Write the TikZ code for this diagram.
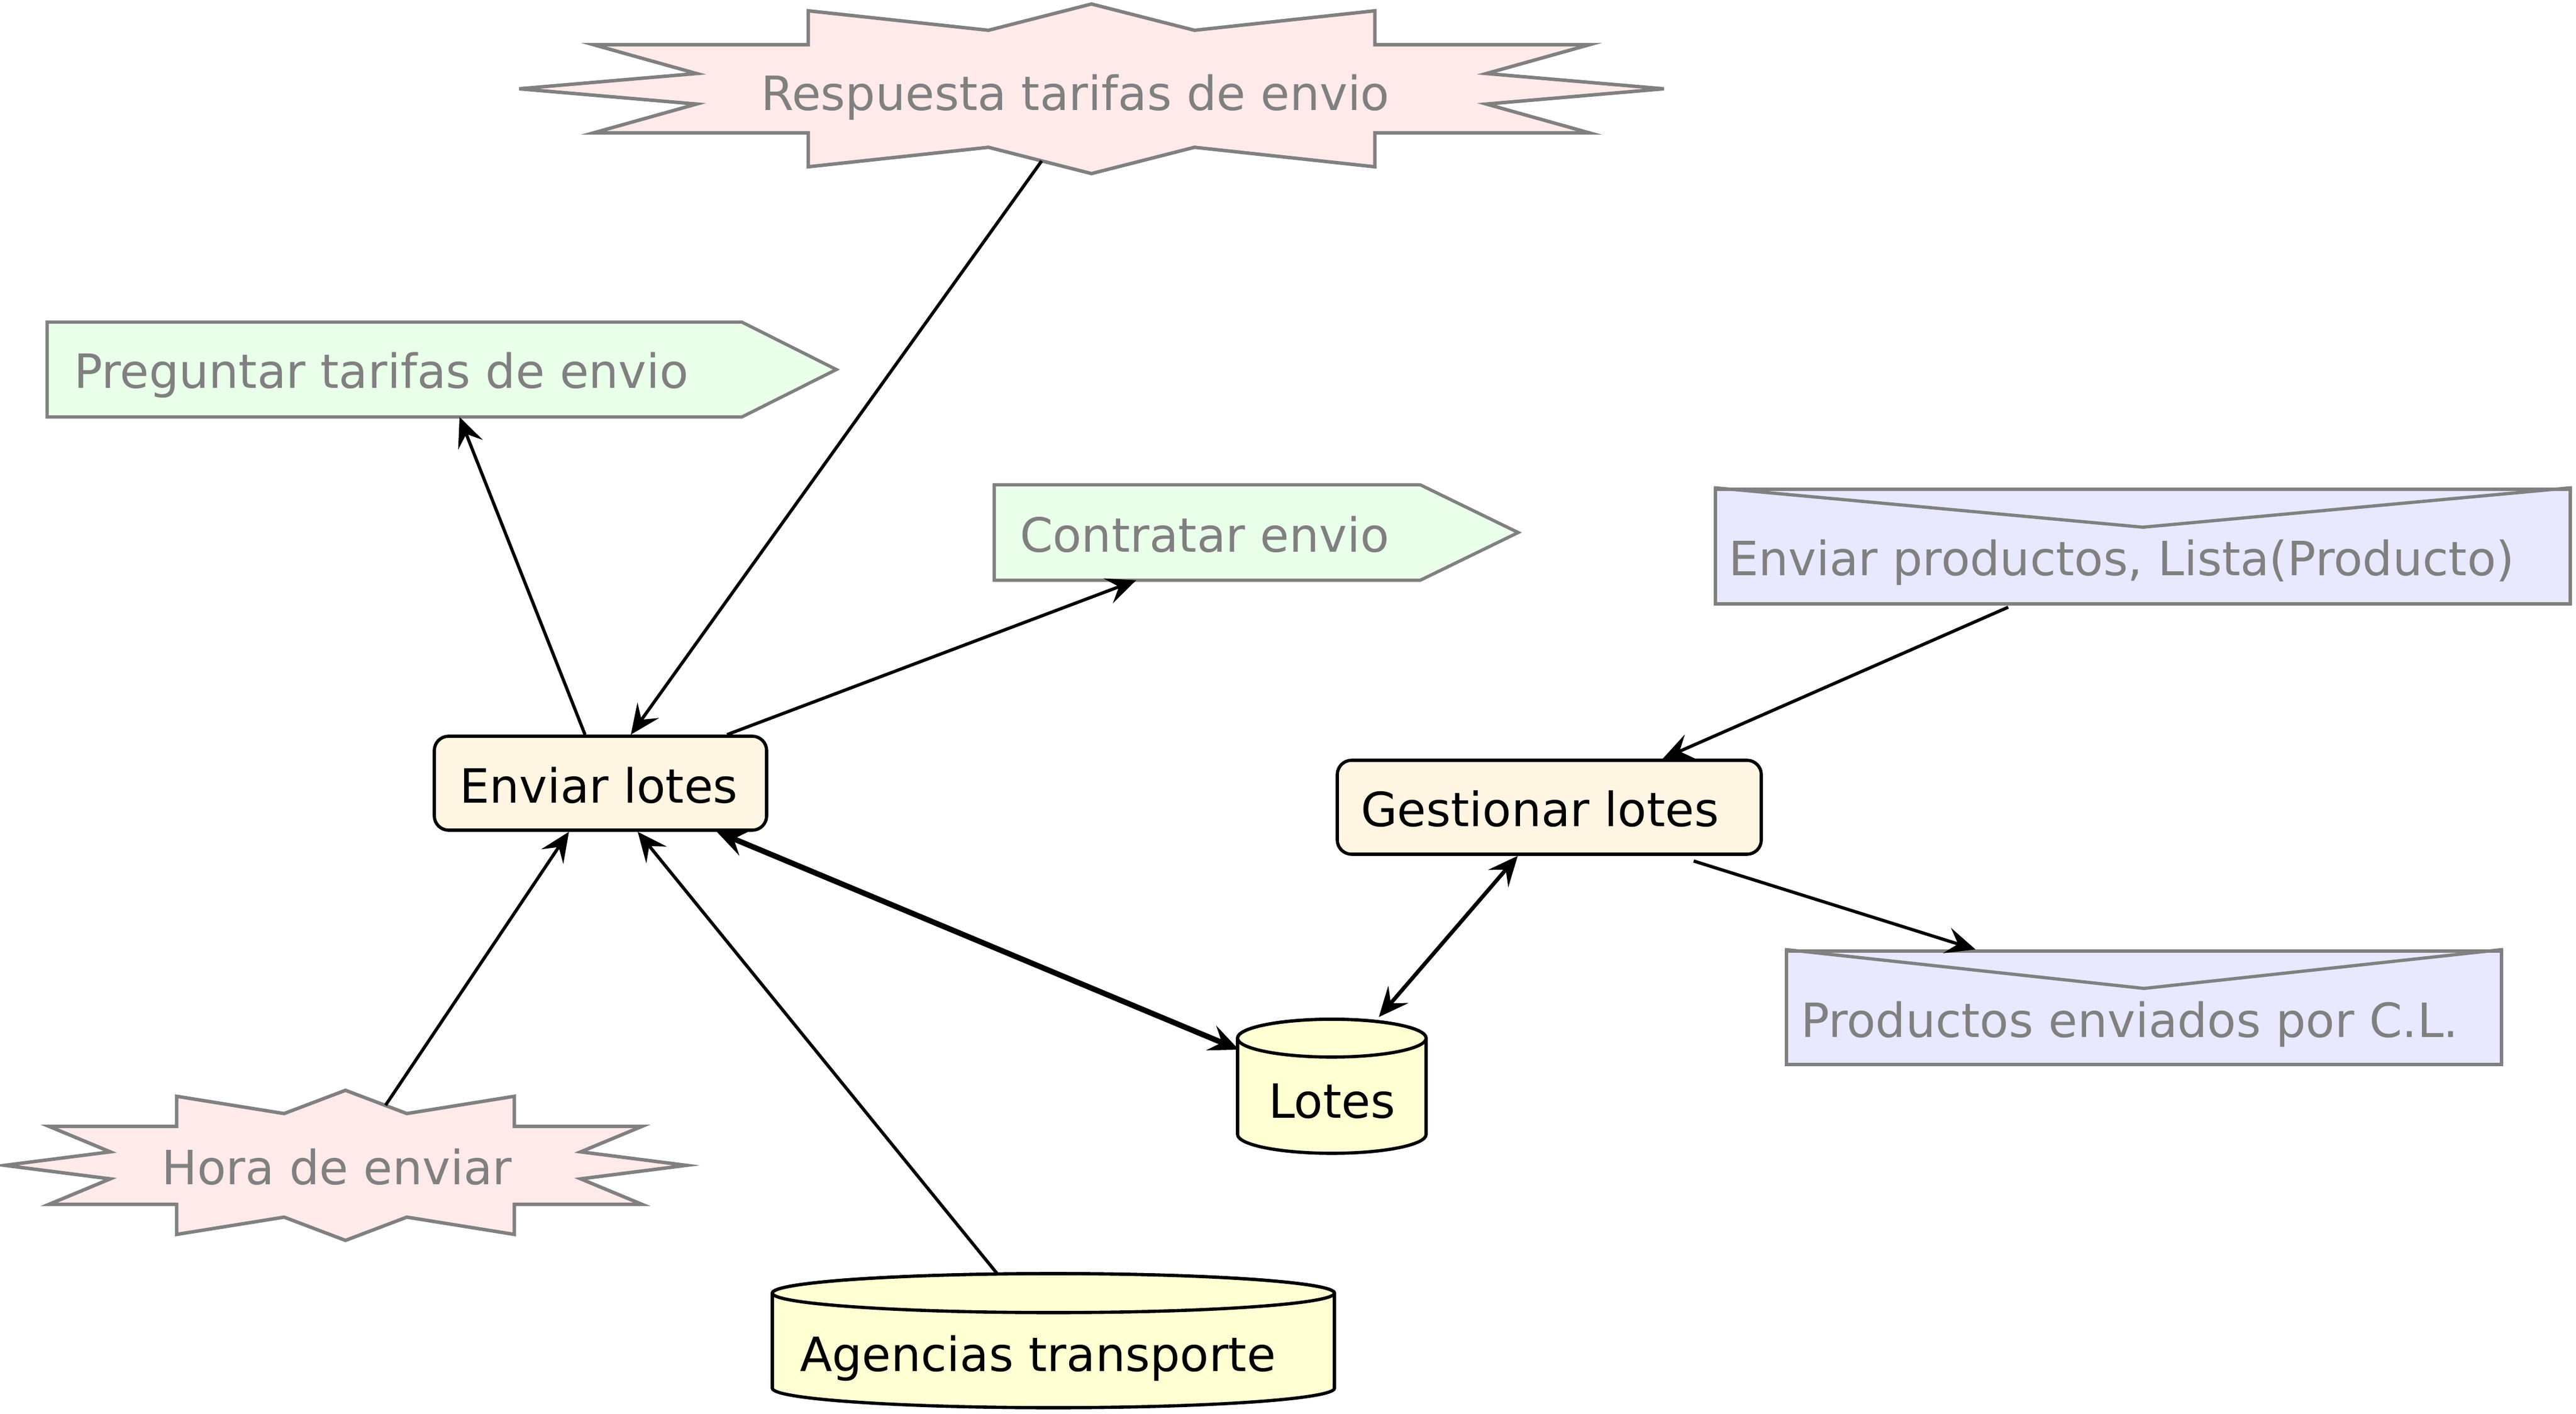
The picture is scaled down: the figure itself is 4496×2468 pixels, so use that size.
\documentclass[tikz,border=0pt]{standalone}
\usepackage{fontspec}
\setmainfont{DejaVu Sans}
\usetikzlibrary{arrows.meta,calc,backgrounds}
\definecolor{grayc}{HTML}{808080}
\definecolor{pinkf}{HTML}{FFEAEA}
\definecolor{greenf}{HTML}{EAFFEA}
\definecolor{bluef}{HTML}{E8E8FF}
\definecolor{tanf}{HTML}{FEF5E2}
\definecolor{yelf}{HTML}{FFFFD4}
\newcommand\mkburst[1]{\draw[starsty,#1] (0,-1) -- (0.18,-0.69) -- (0.495,-0.92) -- (0.495,-0.52) -- (0.87,-0.52) -- (0.69,-0.18) -- (1,0) -- (0.69,0.18) -- (0.87,0.52) -- (0.495,0.52) -- (0.495,0.92) -- (0.18,0.69) -- (0,1) -- (-0.18,0.69) -- (-0.495,0.92) -- (-0.495,0.52) -- (-0.87,0.52) -- (-0.69,0.18) -- (-1,0) -- (-0.69,-0.18) -- (-0.87,-0.52) -- (-0.495,-0.52) -- (-0.495,-0.92) -- (-0.18,-0.69) -- cycle;}
\begin{document}
\begin{tikzpicture}[x=0.25pt,y=-0.25pt,
  >={Stealth[length=13pt,width=11.5pt,inset=5pt]},
  every node/.style={font=\fontsize{20.6pt}{24pt}\selectfont, inner ysep=0pt, text depth=0pt},
  proc/.style={draw=black, line width=1.4pt, fill=tanf, rounded corners=6.25pt},
  sig/.style={text=grayc},
  envl/.style={draw=grayc, line width=1.4pt, fill=bluef, text=grayc},
  flap/.style={draw=grayc, line width=1.4pt},
  starsty/.style={draw=grayc, line width=1.5pt, fill=pinkf},
  sigsty/.style={draw=grayc, line width=1.4pt, fill=greenf},
  cylsty/.style={draw=black, line width=1.4pt, fill=yelf},
  conn/.style={line width=1.4pt, ->},
  dconn/.style={<->},
]
\useasboundingbox (0,0) rectangle (4496,2468);

% nodes
\node[proc, minimum width=145pt, minimum height=41pt, inner xsep=11pt, text height=17.5pt] (enviar) at (1048,1367) {\makebox[123pt][l]{Enviar lotes}};
\node[proc, minimum width=185pt, minimum height=41pt, inner xsep=10.25pt, text height=17pt] (gest) at (2704,1409) {\makebox[164.5pt][l]{Gestionar lotes}};
\node[sig, minimum width=302.75pt, minimum height=41pt, inner xsep=11.5pt, text height=16.5pt] (preg) at (688.5,645) {\makebox[279.75pt][l]{Preguntar tarifas de envio}};
\node[sig, minimum width=185.5pt, minimum height=41.25pt, inner xsep=11pt, text height=17.25pt] (contr) at (2107,929.5) {\makebox[163.5pt][l]{Contratar envio}};
\node[envl, minimum width=373pt, minimum height=50pt, inner xsep=5.75pt, text height=25.5pt] (envprod) at (3740,954) {\makebox[361.5pt][l]{Enviar productos, Lista(Producto)}};
\node[envl, minimum width=312pt, minimum height=49.5pt, inner xsep=6.25pt, text height=25.5pt] (prodenv) at (3742,1759) {\makebox[299.5pt][l]{Productos enviados por C.L.}};
\node[minimum width=82.25pt, minimum height=58.5pt, inner xsep=0pt, text height=27.5pt] (lotes) at (2324.5,1896) {\makebox[82.25pt][c]{Lotes}};
\node[minimum width=245.25pt, minimum height=58.5pt, inner xsep=12pt, text height=26.5pt] (agen) at (1838.5,2340) {\makebox[221.25pt][l]{Agencias transporte}};
\node[anchor=base, text=grayc] (resp) at (1877,193) {Respuesta tarifas de envio};
\node[anchor=base, text=grayc] (hora) at (588,2067) {Hora de enviar};

% shapes behind
\begin{pgfonlayer}{background}
\mkburst{shift={(1905,155)}, xscale=999, yscale=148}
\mkburst{shift={(603,2034)}, xscale=595, yscale=131}
\draw[sigsty] (preg.north west) -- (preg.north east) -- ($(preg.east)+(165,0)$) -- (preg.south east) -- (preg.south west) -- cycle;
\draw[sigsty] (contr.north west) -- (contr.north east) -- ($(contr.east)+(171,0)$) -- (contr.south east) -- (contr.south west) -- cycle;
\draw[cylsty] (2160,1812) -- (2160,1980) arc[start angle=180, end angle=0, x radius=164.5, y radius=33] -- (2489,1812) arc[start angle=0, end angle=-180, x radius=164.5, y radius=33] -- cycle;
\draw[cylsty] (2324.5,1812) ellipse[x radius=164.5, y radius=33];
\draw[cylsty] (1348,2257) -- (1348,2423) arc[start angle=180, end angle=0, x radius=490.5, y radius=34] -- (2329,2257) arc[start angle=0, end angle=-180, x radius=490.5, y radius=34] -- cycle;
\draw[cylsty] (1838.5,2257) ellipse[x radius=490.5, y radius=34];
\end{pgfonlayer}

% envelope flaps
\draw[flap] (envprod.north west) -- ($(envprod.north)+(0,69)$) -- (envprod.north east);
\draw[flap] (prodenv.north west) -- ($(prodenv.north)+(0,68)$) -- (prodenv.north east);

% connectors
\draw[conn] ([shift={(-59,88)}]resp.base) -- ([shift={(53,0)}]enviar.north);
\draw[conn] ([shift={(-27,0)}]enviar.north) -- ([shift={(113.5,0)}]preg.south);
\draw[conn] ([shift={(221,0)}]enviar.north) -- ([shift={(-124,0)}]contr.south);
\draw[conn] ([shift={(85,-138)}]hora.base) -- ([shift={(-55,0)}]enviar.south);
\draw[conn] ([shift={(-98,1)}]agen.north) -- ([shift={(65,0)}]enviar.south);
\draw[dconn, line width=2.4pt] ([shift={(203,0)}]enviar.south) -- ([shift={(3,-64)}]lotes.west);
\draw[dconn, line width=1.7pt] ([shift={(-55,0)}]gest.south) -- ([shift={(82,-3)}]lotes.north);
\draw[conn] ([shift={(-235,3)}]envprod.south) -- ([shift={(198,0)}]gest.north);
\draw[conn] ([shift={(252,9)}]gest.south) -- ([shift={(-294,0)}]prodenv.north);
\end{tikzpicture}
\end{document}
